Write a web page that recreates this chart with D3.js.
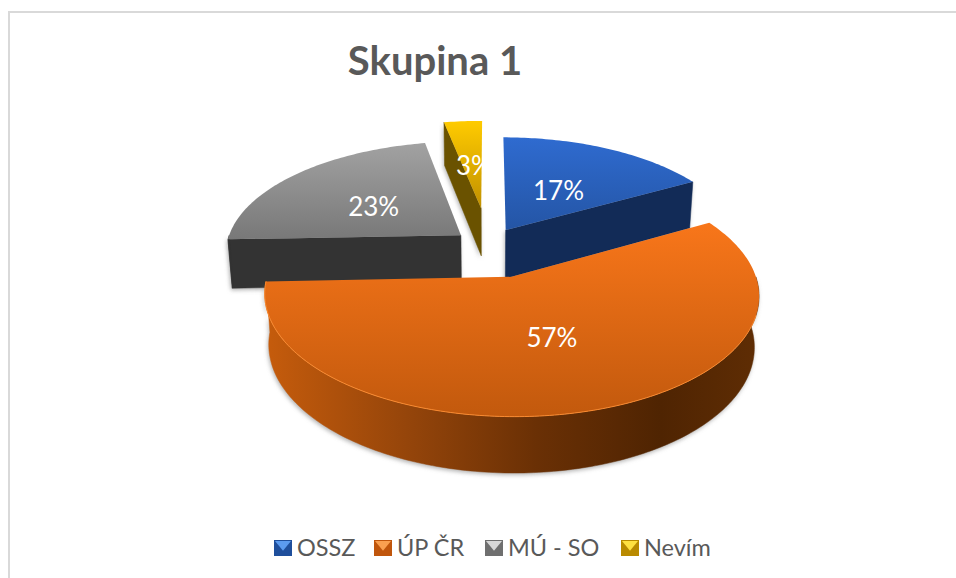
<!DOCTYPE html>
<html><head><meta charset="utf-8">
<script src="https://cdn.jsdelivr.net/npm/d3@7"></script>
<style>html,body{margin:0;padding:0;background:#fff}svg{display:block}</style>
</head><body><div id="chart"></div>
<script>
const categories = ["OSSZ", "ÚP ČR", "MÚ - SO", "Nevím"];
const values = [16.9, 57.49, 22.51, 3.1];
const labels = ["17%", "57%", "23%", "3%"];
const explode = [0.16, 0.28, 0.16, 0.36];
const sliceNudge = [[-3, -1], [3, 0], [0, 0], [-1, 0]];
const labelRadius = [0.45, 0.58, 0.46, 0.42];
const labelShift = [[1, -2], [0, -12], [-8, 0], [0, -4]];
const legendX = [274, 374, 485, 621];
const topColors = [["#2f6bd0", "#2455a5"], ["#f8761a", "#c2590d"], ["#a2a2a2", "#787878"], ["#ffcb00", "#c09000"]];
const wallColors = ["#122b57", "#7a3a06", "#333333", "#6a5200"];
const markerColors = [["#5b9bf0", "#1f4f9c"], ["#f9a050", "#c0560c"], ["#d8d8d8", "#6f6f6f"], ["#ffe040", "#b98a00"]];
const drawOrder = [3, 2, 0, 1];

const W = 956, H = 578;
const svg = d3.select("#chart").append("svg").attr("width", W).attr("height", H);
const defs = svg.append("defs");
const f = defs.append("filter").attr("id", "soft").attr("x", "-10%").attr("y", "-10%").attr("width", "120%").attr("height", "120%");
f.append("feGaussianBlur").attr("stdDeviation", 2.2);

// frame
svg.append("rect").attr("x", 9).attr("y", 12).attr("width", 990).attr("height", 700)
  .attr("fill", "#fff").attr("stroke", "#d9d9d9").attr("stroke-width", 2);

// projection of the tilted disc
const CX = 490, CY = 246, R = 235, RY = 110, DEPTH = 50, P = 0.143, Q = 0.017;
const project = (X, Y, z) => {
  const s = 1 / (1 - P * Y + Q * z);
  return [CX + R * X * s, CY + (RY * Y + DEPTH * z) * s];
};
const pie = d3.pie().sort(null).value(d => d)(values);
const step = Math.PI / 180;
const line = d3.line().x(d => d[0]).y(d => d[1]);

const slices = pie.map((d, i) => {
  const mid = (d.startAngle + d.endAngle) / 2;
  const ox = explode[i] * Math.sin(mid), oy = -explode[i] * Math.cos(mid);
  const rim = (a, r = 1) => [ox + r * Math.sin(a), oy - r * Math.cos(a)];
  return { i, d, mid, ox, oy, rim };
});

// gradients
slices.forEach(s => {
  const g = defs.append("linearGradient").attr("id", "top" + s.i).attr("x1", 0).attr("y1", 0).attr("x2", 0).attr("y2", 1);
  g.append("stop").attr("offset", 0).attr("stop-color", topColors[s.i][0]);
  g.append("stop").attr("offset", 1).attr("stop-color", topColors[s.i][1]);
});
const og = defs.append("linearGradient").attr("id", "wall1").attr("x1", 0).attr("y1", 0).attr("x2", 1).attr("y2", 0);
[[0, "#c65c0c"], [0.3, "#93440a"], [0.55, "#6a3005"], [0.8, "#4f2402"], [1, "#5f2d04"]].forEach(([o, c]) =>
  og.append("stop").attr("offset", o).attr("stop-color", c));

const arcPoints = (s, a0, a1, z) => d3.range(a0, a1, step).concat([a1]).map(a => {
  const p = s.rim(a); return project(p[0], p[1], z);
});

const pieG = svg.append("g");
drawOrder.forEach(i => {
  const s = slices[i], a0 = s.d.startAngle, a1 = s.d.endAngle;
  const g = pieG.append("g").attr("transform", `translate(${sliceNudge[i][0]},${sliceNudge[i][1]})`);
  const walls = [];
  const apexT = project(s.ox, s.oy, 0), apexB = project(s.ox, s.oy, 1);
  const radial = (a) => {
    const p = s.rim(a);
    return [apexT, project(p[0], p[1], 0), project(p[0], p[1], 1), apexB];
  };
  if (Math.sin(a0) < 0) walls.push(radial(a0));
  if (Math.sin(a1) > 0.01) walls.push(radial(a1));
  const fa0 = Math.max(a0, Math.PI / 2), fa1 = Math.min(a1, Math.PI * 1.5);
  if (fa1 > fa0) walls.push(arcPoints(s, fa0, fa1, 0).concat(arcPoints(s, fa0, fa1, 1).reverse()));

  const topPts = [apexT].concat(arcPoints(s, a0, a1, 0));
  // soft shadow
  g.append("g").attr("filter", "url(#soft)").attr("transform", "translate(-1,2)")
    .selectAll("path").data(walls).join("path")
    .attr("d", w => line(w) + "Z").attr("fill", "#8a8a8a").attr("opacity", 0.65);
  g.selectAll("path.wall").data(walls).join("path").attr("class", "wall")
    .attr("d", w => line(w) + "Z")
    .attr("fill", i === 1 ? "url(#wall1)" : wallColors[i])
    .attr("stroke", i === 1 ? "url(#wall1)" : wallColors[i]).attr("stroke-width", 0.5);
  g.append("path").attr("d", line(topPts) + "Z").attr("fill", `url(#top${i})`);
  if (i === 1) g.append("path").attr("d", line(arcPoints(s, Math.PI * 0.6, a1, 0)))
    .attr("fill", "none").attr("stroke", "#fa8a30").attr("stroke-width", 1);
});

// data labels
const fontF = "Lato, 'Open Sans', sans-serif";
const labelPos = s => { const p = s.rim(s.mid, labelRadius[s.i]); return project(p[0], p[1], 0); };
svg.append("g").selectAll("text").data(slices).join("text")
  .attr("x", s => labelPos(s)[0] + labelShift[s.i][0])
  .attr("y", s => labelPos(s)[1] + labelShift[s.i][1])
  .attr("text-anchor", "middle").attr("dominant-baseline", "central")
  .attr("fill", "#fff").attr("font-family", fontF).attr("font-size", 26)
  .text(s => labels[s.i]);

// title
svg.append("text").attr("x", 435).attr("y", 75).attr("text-anchor", "middle")
  .attr("font-family", fontF).attr("font-weight", 700).attr("font-size", 40).attr("fill", "#595959")
  .text("Skupina 1");

// legend
const legend = svg.append("g");
const ly = 540, ms = 18;
categories.forEach((c, i) => {
  const g = legend.append("g").attr("transform", `translate(${legendX[i]},${ly})`);
  g.append("rect").attr("width", ms).attr("height", ms - 2).attr("fill", markerColors[i][1]);
  g.append("path").attr("d", line([[1, 1], [ms - 1, 1], [ms / 2, ms * 0.6]]) + "Z").attr("fill", markerColors[i][0]);
  g.append("text").attr("x", ms + 5).attr("y", ms - 2).attr("font-family", fontF).attr("font-size", 23.5)
    .attr("fill", "#595959").text(c);
});
</script></body></html>
